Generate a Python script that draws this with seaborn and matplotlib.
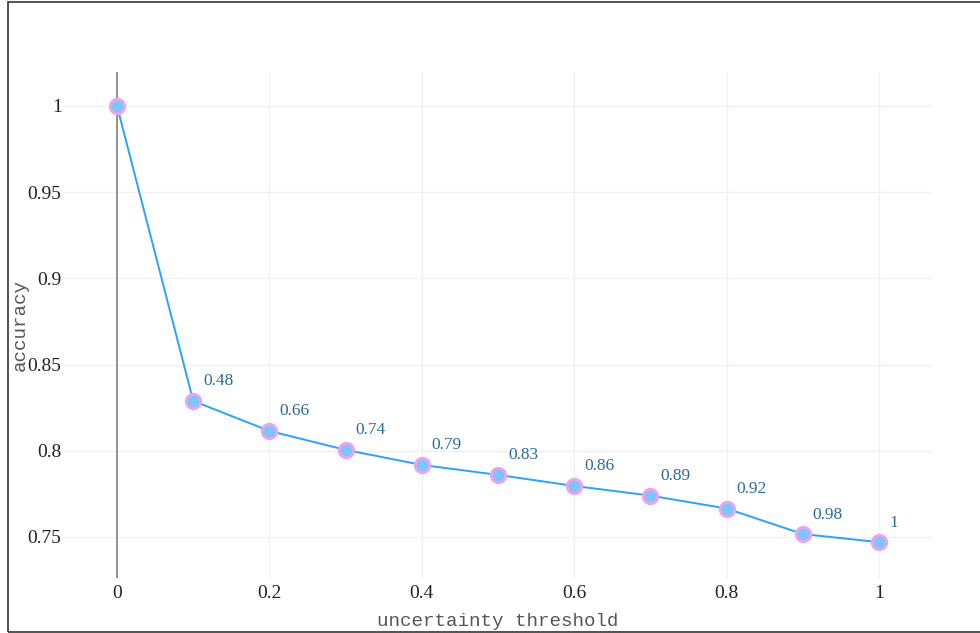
import matplotlib
matplotlib.use("Agg")
import matplotlib.pyplot as plt
from matplotlib.patches import Rectangle
import seaborn as sns
import pandas as pd

# accuracy after discarding predictions above each uncertainty threshold
thresholds = [0.0, 0.1, 0.2, 0.3, 0.4, 0.5, 0.6, 0.7, 0.8, 0.9, 1.0]
accuracy = [1.0, 0.8289, 0.8115, 0.8005, 0.7918, 0.7860, 0.7796, 0.7740, 0.7665, 0.7517, 0.7470]
# fraction of samples retained, shown next to each point
retained = ["", "0.48", "0.66", "0.74", "0.79", "0.83", "0.86", "0.89", "0.92", "0.98", "1"]

xticks = [0, 0.2, 0.4, 0.6, 0.8, 1]
xtick_labels = ["0", "0.2", "0.4", "0.6", "0.8", "1"]
yticks = [0.75, 0.8, 0.85, 0.9, 0.95, 1.0]
ytick_labels = ["0.75", "0.8", "0.85", "0.9", "0.95", "1"]

df = pd.DataFrame({"threshold": thresholds, "accuracy": accuracy})

sns.set_theme(style="white")
plt.rcParams["font.family"] = ["Liberation Serif", "DejaVu Serif"]

fig = plt.figure(figsize=(9.8, 6.33), dpi=100)
ax = fig.add_axes([63 / 980, 1 - 578 / 633, (932 - 63) / 980, (578 - 72) / 633])

ax.set_xlim(-0.0709, 1.0696)
ax.set_ylim(0.7262, 1.0197)

ax.set_xticks(xticks)
ax.set_xticklabels(xtick_labels)
ax.set_yticks(yticks)
ax.set_yticklabels(ytick_labels)
ax.grid(True, color="#f0f0f0", linewidth=1.0)
ax.set_axisbelow(True)
for s in ax.spines.values():
    s.set_visible(False)
ax.tick_params(axis="both", length=0, labelsize=14, colors="#222222")
ax.tick_params(axis="y", pad=1)
ax.tick_params(axis="x", pad=5)

# zero line
ax.axvline(0, color="#8a8a8a", linewidth=1.3, zorder=1)

sns.lineplot(data=df, x="threshold", y="accuracy", ax=ax, color="#2ba3fb",
             linewidth=1.4, marker="o", markersize=10.5,
             markerfacecolor="#7fc4f6", markeredgecolor="#eea3f0",
             markeredgewidth=2.0, zorder=3)

for xv, yv, lab in zip(thresholds, accuracy, retained):
    if lab:
        ax.annotate(lab, (xv, yv), xytext=(7.2, 14), textcoords="offset points",
                    ha="left", va="center", fontsize=12.5, color="#2b6c9c")

ax.set_xlabel("uncertainty threshold", family="Liberation Mono", fontsize=13.8,
              color="#555555", va="center")
ax.set_ylabel("accuracy", family="Liberation Mono", fontsize=13.8,
              color="#555555", va="center")
ax.xaxis.set_label_coords(0.5, (578 - 621) / 506)
ax.yaxis.set_label_coords((20 - 63) / 869, 0.5)

# outer frame
fig.patches.append(Rectangle((8 / 980, 1 / 633), 1.0, 1 - 3 / 633,
                             transform=fig.transFigure, fill=False,
                             edgecolor="#444444", linewidth=1.3))

fig.savefig("out.png", dpi=100)
